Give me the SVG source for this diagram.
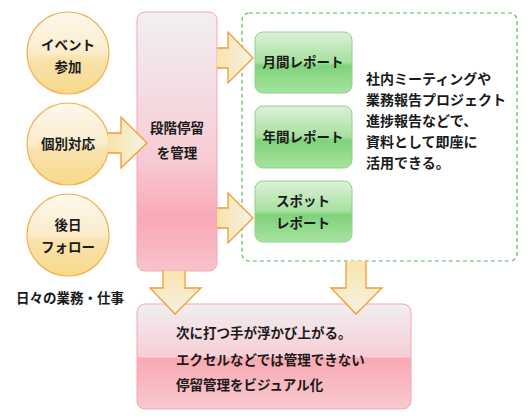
<svg xmlns="http://www.w3.org/2000/svg" width="529" height="420" viewBox="0 0 529 420">
<defs>
<linearGradient id="gCircle" x1="0" y1="0" x2="0" y2="1">
<stop offset="0" stop-color="#fdf8ee"/>
<stop offset="0.5" stop-color="#fbeccb"/>
<stop offset="0.56" stop-color="#f9e3ae"/>
<stop offset="1" stop-color="#f8d98a"/>
</linearGradient>
<linearGradient id="gTall" x1="0" y1="0" x2="0" y2="1">
<stop offset="0" stop-color="#f2eff3"/>
<stop offset="0.55" stop-color="#f7cdd5"/>
<stop offset="0.8" stop-color="#f9a9b5"/>
<stop offset="1" stop-color="#f9c3cc"/>
</linearGradient>
<linearGradient id="gBottom" x1="0" y1="0" x2="0" y2="1">
<stop offset="0" stop-color="#f1eef1"/>
<stop offset="0.5" stop-color="#f7cfd6"/>
<stop offset="0.52" stop-color="#f9a9b2"/>
<stop offset="1" stop-color="#f8c9d0"/>
</linearGradient>
<linearGradient id="gGreen" x1="0" y1="0" x2="0" y2="1">
<stop offset="0" stop-color="#ddf1d8"/>
<stop offset="0.5" stop-color="#a6e09e"/>
<stop offset="0.55" stop-color="#7fd27b"/>
<stop offset="1" stop-color="#a6e49f"/>
</linearGradient>
<linearGradient id="gArrowR" x1="0" y1="0" x2="1" y2="0">
<stop offset="0" stop-color="#f9e4ac"/>
<stop offset="1" stop-color="#f5f1e4"/>
</linearGradient>
<linearGradient id="gArrowD" x1="0" y1="0" x2="0" y2="1">
<stop offset="0" stop-color="#f9e4ac"/>
<stop offset="1" stop-color="#f5f1e4"/>
</linearGradient>
</defs>
<style>
text{font-family:"Noto Sans CJK JP","Noto Sans",sans-serif;font-weight:bold;font-size:13.5px;fill:#1a1a1a}
.c{text-anchor:middle}
.d{font-size:14px}
.circle{fill:url(#gCircle);stroke:#f5ae4c;stroke-width:1.2}
.green{fill:url(#gGreen);stroke:#8fd28a;stroke-width:1}
.af{stroke:none}
.as{fill:none;stroke:#f59a32;stroke-width:1.3;stroke-linejoin:miter}
</style>

<g id="dashed-group">
<rect x="242" y="13" width="275" height="248" rx="7" fill="#ffffff" stroke="#5cb85c" stroke-width="1.2" stroke-dasharray="4 3"/>
</g>

<g id="node-event">
<circle class="circle" cx="68" cy="53" r="41"/>
<text class="c" x="68" y="50">イベント</text>
<text class="c" x="68" y="72">参加</text>
</g>
<g id="node-kobetsu">
<circle class="circle" cx="68" cy="144" r="41"/>
<text class="c" x="68" y="149">個別対応</text>
</g>
<g id="node-gojitsu">
<circle class="circle" cx="68" cy="235" r="41"/>
<text class="c" x="68" y="230">後日</text>
<text class="c" x="68" y="252">フォロー</text>
</g>
<g id="label-daily">
<text class="c" x="70" y="303">日々の業務・仕事</text>
</g>

<g id="node-teiryu">
<rect x="137" y="12" width="80" height="259" rx="8" fill="url(#gTall)" stroke="#f3a6b6" stroke-width="1"/>
<text class="c" x="177" y="133">段階停留</text>
<text class="c" x="177" y="158">を管理</text>
</g>

<g id="node-monthly">
<rect class="green" x="255" y="32" width="97" height="61" rx="8"/>
<text class="c" x="303" y="67">月間レポート</text>
</g>
<g id="node-yearly">
<rect class="green" x="255" y="106" width="97" height="62" rx="8"/>
<text class="c" x="303" y="142">年間レポート</text>
</g>
<g id="node-spot">
<rect class="green" x="255" y="181" width="97" height="61" rx="8"/>
<text class="c" x="303" y="206">スポット</text>
<text class="c" x="303" y="228">レポート</text>
</g>

<g id="label-desc">
<text class="d" x="366" y="84">社内ミーティングや</text>
<text class="d" x="366" y="105">業務報告プロジェクト</text>
<text class="d" x="366" y="126">進捗報告などで、</text>
<text class="d" x="366" y="147">資料として即座に</text>
<text class="d" x="366" y="168">活用できる。</text>
</g>

<g id="node-result">
<rect x="137" y="304" width="274" height="105" rx="8" fill="url(#gBottom)" stroke="#f3a6b6" stroke-width="1"/>
<text x="176" y="338">次に打つ手が浮かび上がる。</text>
<text x="176" y="365">エクセルなどでは管理できない</text>
<text x="176" y="390">停留管理をビジュアル化</text>
</g>

<g id="connectors">
<polygon class="af" fill="url(#gArrowR)" points="108,133 121,133 121,117 147,143 121,168 121,153 108,153"/>
<polyline class="as" points="108,133 121,133 121,117 147,143 121,168 121,153 108,153"/>
<polygon class="af" fill="url(#gArrowR)" points="217,48 228,48 228,32 253,58 228,83 228,68 217,68"/>
<polyline class="as" points="217,48 228,48 228,32 253,58 228,83 228,68 217,68"/>
<polygon class="af" fill="url(#gArrowR)" points="217,208 228,208 228,193 253,218 228,243 228,228 217,228"/>
<polyline class="as" points="217,208 228,208 228,193 253,218 228,243 228,228 217,228"/>
<polygon class="af" fill="url(#gArrowD)" points="163,271 185,271 185,288 201,288 175,314 150,288 163,288"/>
<polyline class="as" points="163,271 163,288 150,288 175,314 201,288 185,288 185,271"/>
<polygon class="af" fill="url(#gArrowD)" points="346,261 366,261 366,288 382,288 356,314 331,288 346,288"/>
<polyline class="as" points="346,261 346,288 331,288 356,314 382,288 366,288 366,261"/>
</g>
</svg>
